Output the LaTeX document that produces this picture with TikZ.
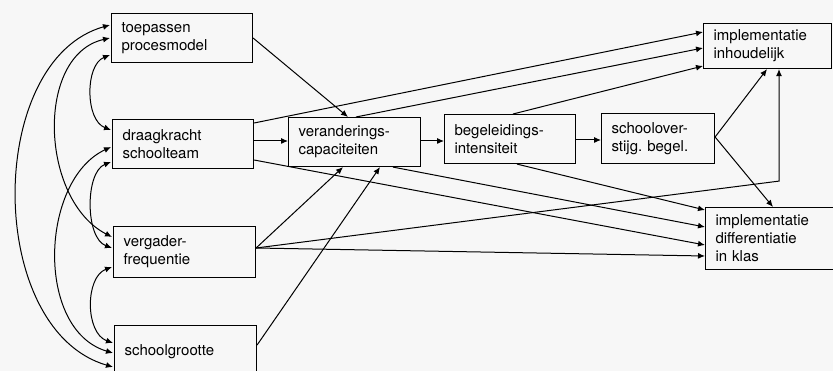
\documentclass[tikz,border=0pt]{standalone}
\usepackage{fontspec}
\setmainfont{TeX Gyre Heros}
\usetikzlibrary{arrows.meta, calc}
\tikzset{
	varbox/.style={draw, line width=1.1pt, align=left, anchor=north west,
		inner xsep=10pt, inner ysep=2pt, font=\fontsize{15}{18}\selectfont},
	link/.style={line width=1pt, ->},
	corr/.style={line width=1pt, <->}
}

\begin{document}
\begin{tikzpicture}[x=1pt, y=-1pt, >={Latex[length=7pt,width=6pt]}]
				\fill[black!3] (0,0) rectangle (833,371);
				\useasboundingbox (0,0) rectangle (833,371);
				% variabelen links
				\node[varbox, text width=121pt, minimum height=49pt] (toep) at (111,13) {toepassen\\procesmodel};
				\node[varbox, text width=121pt, minimum height=49pt] (draag) at (112,119) {draagkracht\\schoolteam};
				\node[varbox, text width=122pt, minimum height=51pt] (verg) at (113,226) {vergader-\\frequentie};
				\node[varbox, text width=122pt, minimum height=52pt] (school) at (114,325) {schoolgrootte};
				% tussenliggende variabelen
				\node[varbox, text width=112pt, minimum height=49pt] (verand) at (288,117) {veranderings-\\capaciteiten};
				\node[varbox, text width=111pt, minimum height=49pt] (begel) at (444,114) {begeleidings-\\intensiteit};
				\node[varbox, text width=93pt, minimum height=50pt] (bover) at (601,113) {schoolover-\\stijg.\ begel.};
				% uitkomsten
				\node[varbox, text width=108pt, minimum height=45pt] (inhoud) at (703,23) {implementatie\\inhoudelijk};
				\node[varbox, text width=115pt, minimum height=62pt] (diff) at (705,207) {implementatie\\differentiatie\\in klas};
				\coordinate (vout) at ($(verg.north east)+(0,22)$);
				\coordinate (bout) at ($(bover.north east)+(0,24)$);
				% correlaties
				\draw[corr] ($(toep.north west)+(-1,42)$) .. controls (85,65) and (85,120) .. ($(draag.north west)+(-1,11)$);
				\draw[corr] ($(draag.north west)+(-1,43)$) .. controls (85,172) and (85,238) .. ($(verg.north west)+(-1,22)$);
				\draw[corr] ($(verg.north west)+(-1,41)$) .. controls (85,277) and (85,333) .. ($(school.north west)+(-1,18)$);
				\draw[corr] ($(toep.north west)+(-1,25)$) .. controls (35,55) and (40,200) .. ($(verg.north west)+(-1,11)$);
				\draw[corr] ($(draag.north west)+(-1,28)$) .. controls (40,180) and (35,330) .. ($(school.north west)+(-1,28)$);
				\draw[corr] ($(toep.north west)+(-1,12)$) .. controls (-15,60) and (-15,330) .. ($(school.north west)+(-1,42)$);
				% effecten
				\draw[link] ($(toep.north east)+(0,25)$) -- ($(verand.north west)+(60,0)$);
				\draw[link] ($(draag.north east)+(0,4)$) -- ($(inhoud.north west)+(0,9)$);
				\draw[link] ($(draag.north east)+(0,22)$) -- ($(verand.north west)+(0,24)$);
				\draw[link] ($(draag.north east)+(0,41)$) -- ($(diff.north west)+(0,38)$);
				\draw[link] (vout) -- ($(verand.south west)+(55,0)$);
				\draw[link] (vout) -- ($(diff.north west)+(0,49)$);
				\draw[link] (vout) -- ($(inhoud.south west)+(76,112)$) -- ($(inhoud.south west)+(76,0)$);
				\draw[link] ($(school.north east)+(0,20)$) -- ($(verand.south west)+(92,0)$);
				\draw[link] ($(verand.north west)+(68,0)$) -- ($(inhoud.north west)+(0,25)$);
				\draw[link] ($(verand.north east)+(0,24)$) -- ($(begel.north west)+(0,27)$);
				\draw[link] ($(verand.south west)+(105,0)$) -- ($(diff.north west)+(0,20)$);
				\draw[link] ($(begel.north west)+(69,0)$) -- ($(inhoud.north west)+(0,43)$);
				\draw[link] ($(begel.north east)+(0,26)$) -- ($(bover.north west)+(0,27)$);
				\draw[link] ($(begel.south west)+(73,0)$) -- ($(diff.north west)+(0,3)$);
				\draw[link] (bout) -- ($(inhoud.south west)+(64,0)$);
				\draw[link] (bout) -- ($(diff.north west)+(68,0)$);
			\end{tikzpicture}
\end{document}
